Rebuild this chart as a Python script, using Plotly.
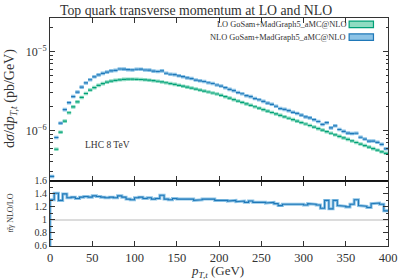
import plotly.graph_objects as go

# ---------------- data ----------------
bin_width = 5  # GeV
n_bins = 80
edges = [i * bin_width for i in range(n_bins + 1)]

# LO GoSam+MadGraph5_aMC@NLO, in units of 1e-6 pb/GeV
lo_1e6 = [0.200, 0.579, 0.952, 1.314, 1.679, 1.995, 2.304, 2.623, 2.943, 3.255,
          3.498, 3.726, 3.924, 4.097, 4.217, 4.315, 4.390, 4.441, 4.467, 4.467,
          4.454, 4.428, 4.390, 4.340, 4.278, 4.205, 4.121, 4.027, 3.936, 3.835,
          3.737, 3.641, 3.548, 3.448, 3.350, 3.255, 3.162, 3.073, 2.985, 2.901,
          2.794, 2.680, 2.570, 2.464, 2.363, 2.266, 2.174, 2.085, 1.999, 1.917,
          1.839, 1.763, 1.691, 1.622, 1.555, 1.492, 1.430, 1.372, 1.316, 1.262,
          1.210, 1.157, 1.106, 1.057, 1.011, 0.966, 0.924, 0.883, 0.844, 0.807,
          0.772, 0.738, 0.705, 0.674, 0.645, 0.616, 0.589, 0.563, 0.538, 0.515]

# NLO GoSam+MadGraph5_aMC@NLO, in units of 1e-6 pb/GeV
nlo_1e6 = [0.262, 0.816, 1.238, 1.840, 2.250, 2.693, 3.064, 3.541, 4.002, 4.394,
           4.792, 5.067, 5.297, 5.490, 5.693, 5.782, 6.014, 5.995, 5.896, 5.852,
           5.968, 5.978, 5.839, 5.816, 5.647, 5.593, 5.687, 5.316, 5.156, 5.101,
           4.933, 4.806, 4.648, 4.551, 4.355, 4.264, 4.174, 4.026, 3.940, 3.771,
           3.660, 3.484, 3.315, 3.203, 3.025, 2.923, 2.761, 2.690, 2.539, 2.454,
           2.336, 2.221, 2.148, 2.028, 1.897, 1.850, 1.788, 1.701, 1.645, 1.565,
           1.488, 1.446, 1.371, 1.300, 1.193, 1.256, 1.081, 1.148, 1.030, 0.976,
           0.926, 0.915, 0.924, 0.822, 0.780, 0.733, 0.736, 0.709, 0.667, 0.587]

# NLO/LO ratio
ratio = [1.31, 1.41, 1.30, 1.40, 1.34, 1.35, 1.33, 1.35, 1.36, 1.35,
         1.37, 1.36, 1.35, 1.34, 1.35, 1.34, 1.37, 1.35, 1.32, 1.31,
         1.34, 1.35, 1.33, 1.34, 1.32, 1.33, 1.38, 1.32, 1.31, 1.33,
         1.32, 1.32, 1.31, 1.32, 1.30, 1.31, 1.32, 1.31, 1.32, 1.30,
         1.31, 1.30, 1.29, 1.30, 1.28, 1.29, 1.27, 1.29, 1.27, 1.28,
         1.27, 1.26, 1.27, 1.25, 1.22, 1.24, 1.25, 1.24, 1.25, 1.24,
         1.23, 1.25, 1.24, 1.23, 1.18, 1.30, 1.17, 1.30, 1.22, 1.21,
         1.20, 1.24, 1.31, 1.22, 1.21, 1.19, 1.25, 1.26, 1.24, 1.14]

x_ticks = [0, 50, 100, 150, 200, 250, 300, 350, 400]
ratio_ticks = [0.6, 0.8, 1.0, 1.2, 1.4, 1.6]
ratio_ticktext = ["0.6", "0.8", "1", "1.2", "1.4", "1.6"]

# ---------------- style ----------------
FONT = "Liberation Serif"
GREEN_D, GREEN_L = "#00a077", "#8fdcc2"
BLUE_D, BLUE_L = "#1f78b8", "#8cc3e6"
AX = "#333333"
TXT = "#333333"


def segments(vals, scale=1.0):
    xs, ys = [], []
    for i, v in enumerate(vals):
        xs += [edges[i], edges[i + 1], None]
        ys += [v * scale, v * scale, None]
    return xs, ys


def steps(vals):
    xs, ys = [edges[0]], [0.0]
    for i, v in enumerate(vals):
        xs += [edges[i], edges[i + 1]]
        ys += [v, v]
    return xs, ys


fig = go.Figure()

for vals, dark, light in [(lo_1e6, GREEN_D, GREEN_L), (nlo_1e6, BLUE_D, BLUE_L)]:
    xs, ys = segments(vals, 1e-6)
    fig.add_trace(go.Scatter(x=xs, y=ys, mode="lines", line=dict(color=light, width=3.6),
                             xaxis="x", yaxis="y", showlegend=False, hoverinfo="skip"))
    fig.add_trace(go.Scatter(x=xs, y=ys, mode="lines", line=dict(color=dark, width=1.2),
                             xaxis="x", yaxis="y", showlegend=False))

# ratio panel
fig.add_trace(go.Scatter(x=[0, 400], y=[1, 1], mode="lines",
                         line=dict(color="#d0d0d0", width=1.5),
                         xaxis="x2", yaxis="y2", showlegend=False, hoverinfo="skip"))
rx, ry = steps(ratio)
fig.add_trace(go.Scatter(x=rx, y=ry, mode="lines", line=dict(color=BLUE_L, width=3),
                         xaxis="x2", yaxis="y2", showlegend=False, hoverinfo="skip"))
fig.add_trace(go.Scatter(x=rx, y=ry, mode="lines", line=dict(color=BLUE_D, width=1.1),
                         xaxis="x2", yaxis="y2", showlegend=False))

split = 66 / 231

common_x = dict(range=[0, 400], tickvals=x_ticks, ticks="inside", ticklen=5,
                tickcolor=AX, showline=True, linecolor=AX, linewidth=1, mirror="ticks",
                showgrid=False, zeroline=False)

minor_log = [k * 1e-7 for k in range(2, 10)] + [k * 1e-6 for k in range(2, 10)] + [2e-5, 3e-5]

fig.update_layout(
    width=409, height=279,
    margin=dict(l=50, r=12, t=15, b=33),
    paper_bgcolor="white", plot_bgcolor="white",
    font=dict(family=FONT, color=TXT, size=12),
    xaxis=dict(domain=[0, 1], anchor="y", showticklabels=False, **common_x),
    yaxis=dict(domain=[split, 1], anchor="x", type="log", range=[-6.6375, -4.575],
               tickvals=[1e-6, 1e-5],
               ticktext=["10<sup>\u22126</sup>", "10<sup>\u22125</sup>"],
               ticks="inside", ticklen=5, tickcolor=AX, showline=True, linecolor=AX,
               linewidth=1, mirror="ticks", showgrid=False, zeroline=False,
               tickfont=dict(size=12),
               minor=dict(tickvals=minor_log, ticks="inside", ticklen=2.5, tickcolor=AX,
                          showgrid=False)),
    xaxis2=dict(domain=[0, 1], anchor="y2", tickfont=dict(size=12.5), **common_x),
    yaxis2=dict(domain=[0, split], anchor="x2", range=[0.6, 1.6],
                tickvals=ratio_ticks, ticktext=ratio_ticktext,
                ticks="inside", ticklen=5, tickcolor=AX, showline=True, linecolor=AX,
                linewidth=1, mirror="ticks", showgrid=False, zeroline=False,
                tickfont=dict(size=10),
                minor=dict(dtick=0.1, ticks="inside", ticklen=2.5, tickcolor=AX,
                           showgrid=False)),
)

# separator line between panels
fig.add_shape(type="line", xref="paper", yref="paper", x0=0, x1=1, y0=split, y1=split,
              line=dict(color="#111111", width=1.6))

# legend drawn by hand (symbol right of text)
legend_items = [("LO GoSam+MadGraph5_aMC@NLO", GREEN_D, GREEN_L, 0.972),
                ("NLO GoSam+MadGraph5_aMC@NLO", BLUE_D, BLUE_L, 0.916)]
for label, dark, light, yc in legend_items:
    fig.add_annotation(text=label, xref="paper", yref="paper", x=0.882, y=yc,
                       xanchor="right", yanchor="middle", showarrow=False,
                       font=dict(size=8.4, family=FONT, color=TXT))
    fig.add_shape(type="rect", xref="paper", yref="paper", x0=0.885, x1=0.957,
                  y0=yc - 0.014, y1=yc + 0.014, fillcolor=light,
                  line=dict(color=dark, width=1.2))

fig.add_annotation(text="LHC 8 TeV", xref="paper", yref="paper", x=0.098, y=0.4416,
                   xanchor="left", yanchor="middle", showarrow=False,
                   font=dict(size=9.5, family=FONT, color=TXT))

fig.add_annotation(text="Top quark transverse momentum at LO and NLO",
                   xref="paper", yref="paper", x=150 / 347, y=1.0 + 8 / 231,
                   xanchor="center", yanchor="middle", showarrow=False,
                   font=dict(size=13.8, family=FONT, color=TXT))

fig.add_annotation(text="d<i>\u03c3</i>/d<i>p</i><sub><i>T,t</i></sub> (pb/GeV)",
                   xref="paper", yref="paper", x=-40 / 347, y=0.645,
                   xanchor="center", yanchor="middle", textangle=-90, showarrow=False,
                   font=dict(size=14, family=FONT, color=TXT))

fig.add_annotation(text="<i>t</i><i>t\u0304</i><i>\u03b3</i> NLO/LO",
                   xref="paper", yref="paper", x=-41 / 347, y=0.143,
                   xanchor="center", yanchor="middle", textangle=-90, showarrow=False,
                   font=dict(size=8, family=FONT, color=TXT))

fig.add_annotation(text="<i>p</i><sub><i>T,t</i></sub> (GeV)",
                   xref="paper", yref="paper", x=0.496, y=-25.5 / 231,
                   xanchor="center", yanchor="middle", showarrow=False,
                   font=dict(size=13, family=FONT, color=TXT))

fig.write_html("out.html",
               config={"displayModeBar": False},
               post_script="document.body.style.margin='0';"
                           "document.body.style.overflow='hidden';")
